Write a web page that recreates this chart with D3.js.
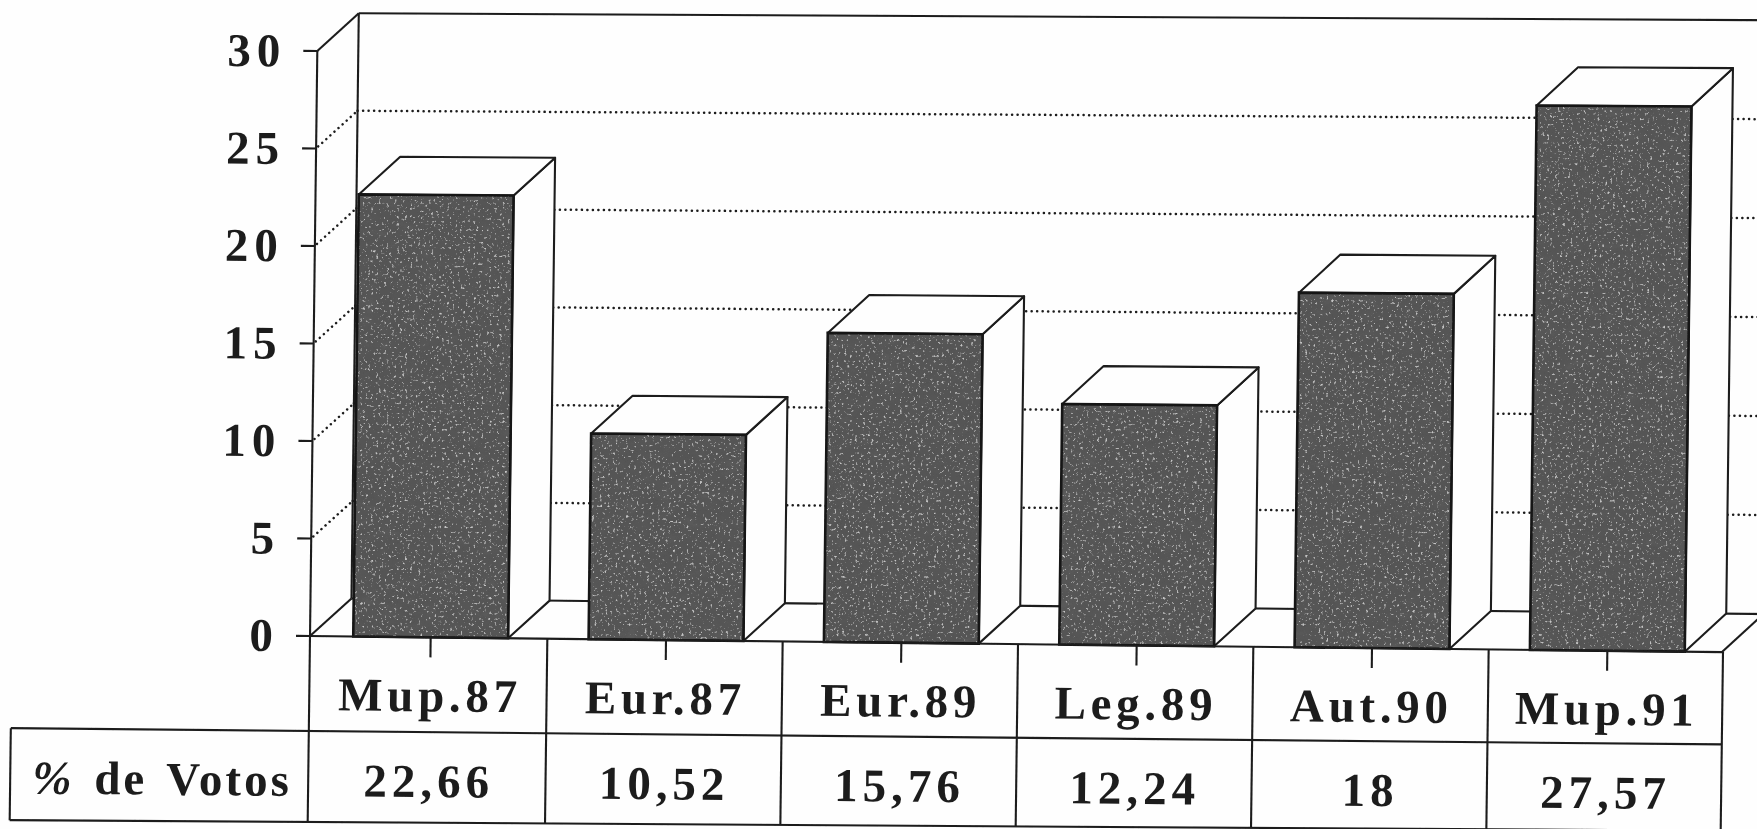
<!DOCTYPE html>
<html><head><meta charset="utf-8">
<script src="https://cdn.jsdelivr.net/npm/d3@7"></script>
<style>html,body{margin:0;padding:0;background:#fefefe;overflow:hidden}svg{display:block}</style>
</head><body><svg id="c" width="1757" height="829"></svg>
<script>
const categories = ["Mup.87","Eur.87","Eur.89","Leg.89","Aut.90","Mup.91"];
const votes = [22.66,10.52,15.76,12.24,18,27.57];
const valueTicks = [0,5,10,15,20,25,30];
const rowLabel = "% de Votos";

const ink = "#1c1c1c";
const serif = "'Liberation Serif','Times New Roman',serif";
const W = 1412, H = 585, dx = 41, dy = -38, row1 = 95, row2 = 186, headerW = 298, fs = 47;

const svg = d3.select("#c");
const defs = svg.append("defs");
const grain = defs.append("filter").attr("id","grain").attr("x",0).attr("y",0).attr("width",1).attr("height",1);
grain.append("feTurbulence").attr("type","fractalNoise").attr("baseFrequency",".38").attr("numOctaves",2).attr("seed",4).attr("result","n");
grain.append("feColorMatrix").attr("in","n").attr("type","matrix")
  .attr("values","0 0 0 0 .56  0 0 0 0 .56  0 0 0 0 .56  5 0 0 0 -3.1").attr("result","sp");
grain.append("feComposite").attr("in","sp").attr("in2","SourceGraphic").attr("operator","in").attr("result","spk");
grain.append("feTurbulence").attr("type","fractalNoise").attr("baseFrequency",".05 .1").attr("numOctaves",3).attr("seed",9).attr("result","m");
grain.append("feColorMatrix").attr("in","m").attr("type","matrix")
  .attr("values","0 0 0 0 .1  0 0 0 0 .1  0 0 0 0 .1  2.4 0 0 0 -.85").attr("result","mo");
grain.append("feComposite").attr("in","mo").attr("in2","SourceGraphic").attr("operator","in").attr("result","mot");
const gm = grain.append("feMerge");
gm.append("feMergeNode").attr("in","SourceGraphic");
gm.append("feMergeNode").attr("in","mot");
gm.append("feMergeNode").attr("in","spk");
defs.append("filter").attr("id","soft").append("feGaussianBlur").attr("stdDeviation",".5");

const g = svg.append("g").attr("filter","url(#soft)");

// the scanned page is slightly warped: tilt varies with height
const tilt = d3.scaleLinear().domain([-623,0,95,165,186]).range([.005,.0114,.0095,.0095,.0062]);
const P = (px,py) => [310 + px - py*0.0125, 636 + py + px*tilt(py)];
const at = (px,py) => { const [a,b]=P(px,py); return `translate(${a},${b}) rotate(${Math.atan(tilt(py))*180/Math.PI})`; };
const pathOf = pts => d3.line()(pts.map(p=>P(p[0],p[1])));

const x = d3.scaleBand().domain(categories).range([3,W+3]).paddingInner(.342).paddingOuter(.171);
const band = W / categories.length;
const y = d3.scaleLinear().domain([0,30]).range([0,-H]);

const line = (x1,y1,x2,y2,o={}) => g.append("path").attr("d",pathOf([[x1,y1],[x2,y2]])).attr("fill","none")
  .attr("stroke",ink).attr("stroke-width",o.w||2.1).attr("stroke-dasharray",o.dash||null).attr("stroke-linecap",o.cap||null);

// grid (dotted) on the side and back walls
valueTicks.filter(v=>v>0&&v<30).forEach(v=>{
  const dot = {dash:"0.1 5.4",w:2.5,cap:"round"};
  line(2,y(v)-2,dx,y(v)+dy,dot);
  line(dx,y(v)+dy,W+dx+30,y(v)+dy,dot);
});

// walls and floor
line(0,0,0,y(30));
line(0,y(30),dx,y(30)+dy);
line(dx,dy,dx,y(30)+dy);
line(dx,y(30)+dy,W+dx+30,y(30)+dy);
line(0,0,dx,dy);
line(dx,dy,W+dx+30,dy);
line(W,0,W+dx,dy);

// bars
const bars = g.append("g").selectAll("g").data(votes).join("g");
bars.each(function(v,i){
  const b = d3.select(this), xl = x(categories[i]), w = x.bandwidth(), t = y(v);
  const front = [[xl,0],[xl+w,0],[xl+w,t],[xl,t]];
  b.append("path").attr("d",pathOf([[xl+w,0],[xl+w+dx,dy],[xl+w+dx,t+dy],[xl+w,t]])+"Z")
    .attr("fill","#fefefe").attr("stroke",ink).attr("stroke-width",2.1).attr("stroke-linejoin","round");
  b.append("path").attr("d",pathOf([[xl,t],[xl+dx,t+dy],[xl+w+dx,t+dy],[xl+w,t]])+"Z")
    .attr("fill","#fefefe").attr("stroke",ink).attr("stroke-width",2.1).attr("stroke-linejoin","round");
  b.append("path").attr("d",pathOf(front)+"Z").attr("fill","#555555").attr("filter","url(#grain)");
  b.append("path").attr("d",pathOf(front)+"Z").attr("fill","none").attr("stroke","#141414").attr("stroke-width",2.6);
});

// axes
const yAxis = g.append("g").call(d3.axisLeft(y).tickValues(valueTicks).tickSize(14).tickPadding(17));
yAxis.select(".domain").remove();
yAxis.selectAll(".tick").attr("transform",d=>at(0,y(d)));
yAxis.selectAll("line").attr("stroke",ink).attr("stroke-width",2.1);
yAxis.selectAll("text").attr("font-family",serif).attr("font-size",fs).attr("font-weight","bold")
  .attr("letter-spacing",6).attr("fill",ink).attr("dy",".33em");

const xAxis = g.append("g").call(d3.axisBottom(x).tickSize(20));
xAxis.select(".domain").remove();
xAxis.selectAll(".tick").attr("transform",d=>at(x(d)+x.bandwidth()/2,0));
xAxis.selectAll("line").attr("stroke",ink).attr("stroke-width",2.1);
xAxis.selectAll("text").attr("font-family",serif).attr("font-size",fs).attr("font-weight","bold")
  .attr("letter-spacing",4.7).attr("fill",ink).attr("y",74).attr("dy",0);

// table
line(0,0,W,0);
categories.forEach((c,i)=>line(i*band+(i?2:0),0,i*band+(i?2:0),row2));
line(W+1,0,W+1,row2);
line(-headerW,row1,W+1,row1);
line(-headerW,row2,W+1,row2);
line(-headerW,row1,-headerW,row2);

g.append("g").selectAll("text").data(votes).join("text")
  .attr("transform",(v,i)=>at(x(categories[i])+x.bandwidth()/2,160))
  .attr("text-anchor","middle").attr("font-family",serif).attr("font-size",fs).attr("font-weight","bold")
  .attr("letter-spacing",5).attr("fill",ink)
  .text(v=>String(v).replace(".",","));

const head = g.append("text").attr("transform",at(-headerW/2+3,160)).attr("text-anchor","middle")
  .attr("font-family",serif).attr("font-size",fs).attr("font-weight","bold").attr("letter-spacing",3).attr("word-spacing",5).attr("fill",ink);
head.append("tspan").attr("font-style","italic").text(rowLabel.slice(0,1));
head.append("tspan").text(rowLabel.slice(1));
</script></body></html>
